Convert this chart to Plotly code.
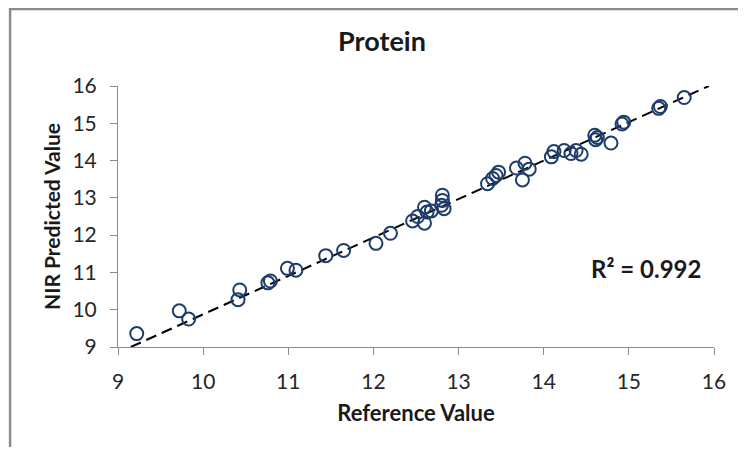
import plotly.graph_objects as go

# Reference (x) and NIR predicted (y) protein values
reference = [9.22, 9.72, 9.83, 10.43, 10.41, 10.76, 10.79, 10.99, 11.09, 11.44,
             11.65, 12.03, 12.20, 12.46, 12.52, 12.60, 12.60, 12.63, 12.68, 12.81,
             12.81, 12.83, 12.80, 13.34, 13.40, 13.44, 13.47, 13.68, 13.78, 13.83,
             13.75, 14.09, 14.12, 14.24, 14.32, 14.38, 14.44, 14.60, 14.61, 14.63,
             14.79, 14.92, 14.94, 15.35, 15.37, 15.65]
predicted = [9.36, 9.97, 9.75, 10.53, 10.27, 10.72, 10.77, 11.11, 11.06, 11.45,
             11.59, 11.78, 12.05, 12.38, 12.50, 12.32, 12.75, 12.62, 12.65, 13.07,
             12.93, 12.71, 12.80, 13.38, 13.52, 13.60, 13.69, 13.80, 13.93, 13.77,
             13.48, 14.10, 14.24, 14.27, 14.19, 14.27, 14.17, 14.68, 14.56, 14.62,
             14.47, 14.98, 15.03, 15.40, 15.45, 15.69]

# Linear trend line end points (clipped to the axis box)
trend_x = [9.15, 15.94]
trend_y = [9.0, 16.0]

axis_ticks = [9, 10, 11, 12, 13, 14, 15, 16]
r2_text = "R² = 0.992"

FONT = "Lato"
AXIS_COL = "#8a8a8a"
OFF = 8  # browser body margin

fig = go.Figure()
fig.add_trace(go.Scatter(
    x=trend_x, y=trend_y, mode="lines",
    line=dict(color="black", width=2, dash="11px,6px"),
    hoverinfo="skip", showlegend=False))
fig.add_trace(go.Scatter(
    x=reference, y=predicted, mode="markers",
    marker=dict(symbol="circle-open", size=13, color="#1f3d6b",
                line=dict(width=2, color="#1f3d6b")),
    showlegend=False))

W, H = 746 - 2 * OFF, 455 - 2 * OFF
L, T = 118 - OFF, 86 - OFF
R = W - (720 - OFF)
B = H - (347 - OFF)
pw, ph = W - L - R, H - T - B

def px(xpage):
    return (xpage - OFF - L) / pw

def py(ypage):
    return (H - B - (ypage - OFF)) / ph

fig.update_layout(
    width=W, height=H,
    margin=dict(l=L, r=R, t=T, b=B),
    paper_bgcolor="white", plot_bgcolor="white",
    font=dict(family=FONT, color="#262626"),
    title=dict(text="<b>Protein</b>", x=(382 - OFF) / W, xref="container", xanchor="center",
               y=1 - (42 - OFF) / H, yref="container", yanchor="middle",
               font=dict(family=FONT, size=27, color="#1a1a1a")),
    xaxis=dict(range=[9, 16], tickvals=axis_ticks, showgrid=False, zeroline=False,
               showline=True, linecolor=AXIS_COL, linewidth=1,
               ticks="outside", ticklen=7, tickcolor=AXIS_COL, tickwidth=1,
               ticklabelstandoff=9,
               tickfont=dict(size=21, color="#262626"),
               title=dict(text="<b>Reference Value</b>", standoff=13,
                          font=dict(size=22, color="#1a1a1a"))),
    yaxis=dict(range=[9, 16], tickvals=axis_ticks, showgrid=False, zeroline=False,
               showline=True, linecolor=AXIS_COL, linewidth=1,
               ticks="outside", ticklen=7, tickcolor=AXIS_COL, tickwidth=1,
               ticklabelstandoff=9,
               tickfont=dict(size=21, color="#262626"),
               title=dict(text="<b>NIR Predicted Value</b>", standoff=6,
                          font=dict(size=21, color="#1a1a1a"))),
    annotations=[dict(text="<b>" + r2_text + "</b>", x=px(651), y=py(268),
                      xref="paper", yref="paper", showarrow=False,
                      xanchor="center", yanchor="middle",
                      font=dict(family=FONT, size=24, color="#1a1a1a"))],
    shapes=[
        dict(type="line", xref="paper", yref="paper", x0=px(9), x1=px(9),
             y0=py(7), y1=py(460), line=dict(color="#8c8c8c", width=2.5)),
        dict(type="line", xref="paper", yref="paper", x0=px(9), x1=px(760),
             y0=py(9), y1=py(9), line=dict(color="#8c8c8c", width=2.5)),
    ],
)

fig.write_html("out.html")
